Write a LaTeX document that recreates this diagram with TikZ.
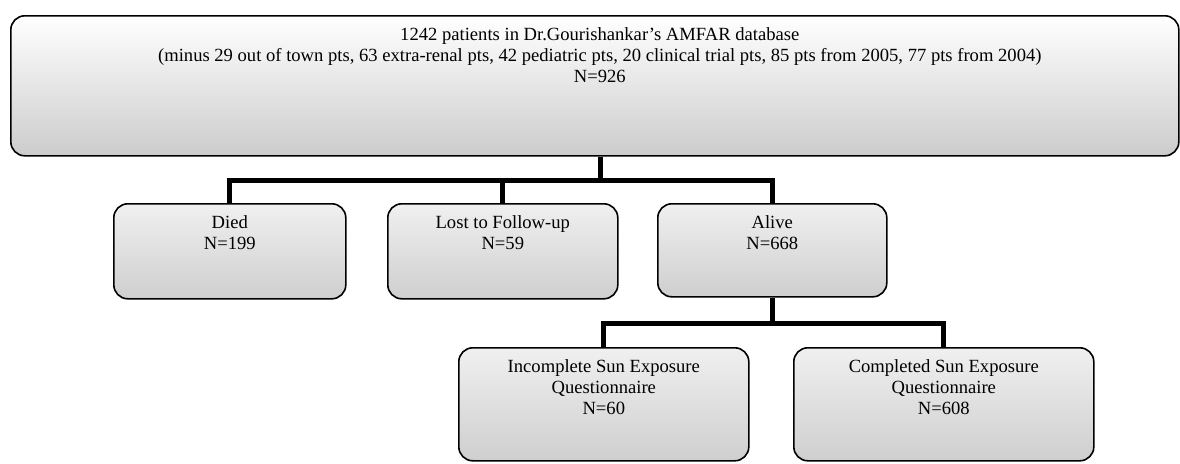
\documentclass[tikz,border=0pt]{standalone}
\usepackage{fontspec}
\setmainfont{Liberation Serif}
\newcommand{\boxtext}[3]{\parbox[c][#2][t]{#1}{\centering\vspace*{12pt}#3\par}}
\tikzset{
  fbox/.style={draw=black, line width=1.6pt, rounded corners=14pt, inner sep=0pt,
    top color=gray!12, bottom color=gray!38, anchor=north west,
    font=\fontsize{18.6}{21}\selectfont},
  conn/.style={draw=black, line width=5pt}
}
\begin{document}
\begin{tikzpicture}[x=1pt,y=-1pt]
\useasboundingbox (0,0) rectangle (1180,463);
\node[fbox, top color=white, bottom color=gray!40] (top) at (10,15)
  {\boxtext{1168pt}{140pt}{\hspace*{10pt}1242 patients in Dr.Gourishankar's AMFAR database\\
  \hspace*{10pt}(minus 29 out of town pts, 63 extra-renal pts, 42 pediatric pts, 20 clinical trial pts, 85 pts from 2005, 77 pts from 2004)\\
  \hspace*{10pt}N=926}};
\node[fbox] (died) at (113,203) {\boxtext{232pt}{95pt}{Died\\N=199}};
\node[fbox] (lost) at (387,203) {\boxtext{230pt}{95pt}{Lost to Follow-up\\N=59}};
\node[fbox] (alive) at (657,203) {\boxtext{229pt}{93pt}{Alive\\N=668}};
\node[fbox] (inc) at (458,347) {\boxtext{290pt}{113pt}{Incomplete Sun Exposure\\Questionnaire\\N=60}};
\node[fbox] (comp) at (793,347) {\boxtext{300pt}{113pt}{Completed Sun Exposure\\Questionnaire\\N=608}};
\coordinate (j1) at (600,180);
\coordinate (j2) at (alive.south |- 0,323);
\draw[conn] (j1 |- top.south) -- (j1);
\draw[conn] (died.north) |- (j1) -| (alive.north);
\draw[conn] (lost.north) -- (lost.north |- j1);
\draw[conn] (alive.south) -- (j2);
\draw[conn] (inc.north) |- (j2) -| (comp.north);
\end{tikzpicture}
\end{document}
